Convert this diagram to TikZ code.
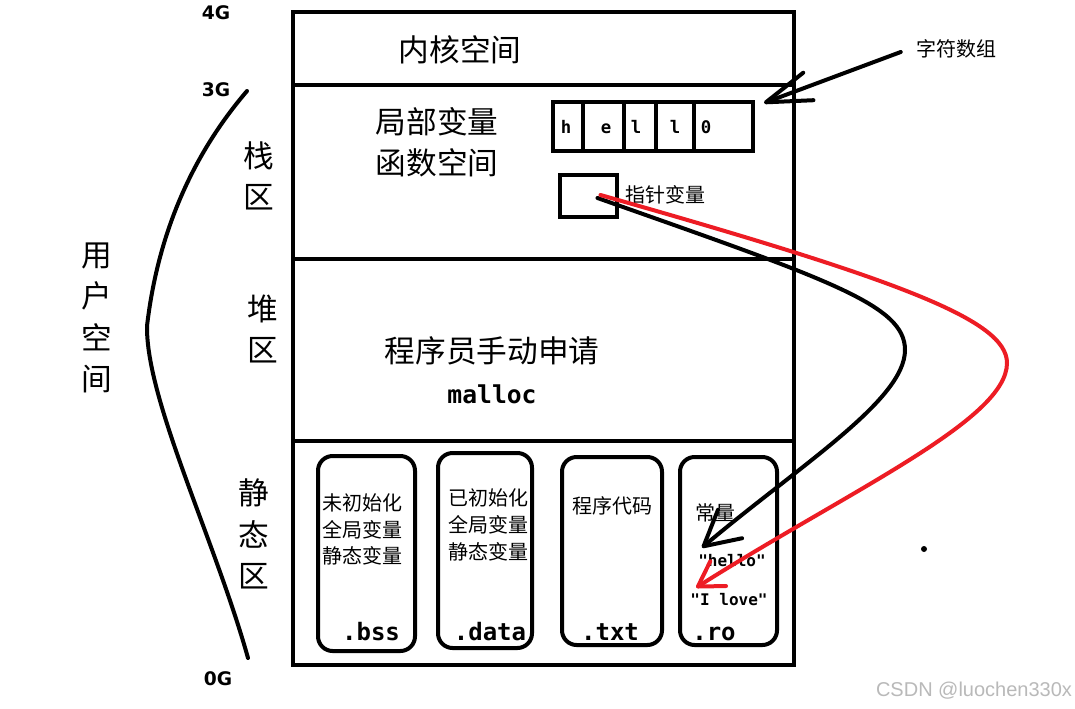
\documentclass[tikz,border=0pt]{standalone}
\usepackage{fontspec}
\setmainfont{Noto Sans CJK SC}
\setmonofont{DejaVu Sans Mono}
\newfontfamily\gfont{DejaVu Sans}
\newfontfamily\wmfont{Liberation Sans}
\usetikzlibrary{arrows.meta}
\definecolor{paintred}{RGB}{237,28,36}

\begin{document}
\begin{tikzpicture}[
    x=0.75pt, y=-0.75pt,
    region/.style={draw, line width=3pt},
    seg/.style={rectangle, draw, line width=3pt, rounded corners=11pt, inner sep=0pt},
    cellbox/.style={rectangle, draw, line width=3pt, inner sep=0pt},
    big/.style={font=\fontsize{23}{31}\selectfont, align=center, inner sep=0pt},
    small/.style={font=\fontsize{15}{20}\selectfont, align=center, inner sep=0pt},
    code/.style={font=\ttfamily\bfseries\fontsize{18}{20}\selectfont, inner sep=0pt, anchor=base},
    cellchar/.style={font=\ttfamily\bfseries\fontsize{13}{14}\selectfont, inner sep=0pt, anchor=base},
    strlit/.style={font=\ttfamily\bfseries\fontsize{12}{13}\selectfont, inner sep=0pt, anchor=base},
    gig/.style={font=\gfont\bfseries\fontsize{14}{15}\selectfont, inner sep=0pt},
    arrow/.style={line width=3pt, line cap=round}
]
    \fill[white] (0,0) rectangle (1075,708);
    \useasboundingbox (0,0) rectangle (1075,708);

    \draw[region] (293,12) rectangle (794,665);
    \foreach \y in {85,259,441}
        \draw[region] (293,\y) -- (794,\y);

    \node[big] (kernel) at (460,50) {内核空间};
    \node[big] (local) at (437,142.5) {局部变量\\函数空间};
    \node[big] (heapnote) at (492,351) {程序员手动申请};
    \node[code, font=\ttfamily\bfseries\fontsize{18.5}{20}\selectfont] (malloc) at (492,403) {malloc};

    \node[cellbox, minimum width=150pt, minimum height=36.75pt] (arr) at (653,126.5) {};
    \foreach \x in {583,624,656,694}
        \draw[line width=3pt] (\x,102) -- (\x,151);
    \foreach \x/\c [count=\i] in {566/h,606/e,636/l,675/l,706/0}
        \node[cellchar] (c\i) at (\x,133) {\c};
    \node[cellbox, minimum width=42.75pt, minimum height=31.5pt] (ptr) at (588.5,196) {};
    \node[small] (ptrlabel) at (665,195) {指针变量};
    \node[small] (chars) at (956,49) {字符数组};

    \node[big] (stack) at (259,176) {栈\\区};
    \node[big] (heap) at (263,329) {堆\\区};
    \node[big] (static) at (254,534) {静\\态\\区};
    \node[big] (user) at (97,318) {用\\户\\空\\间};
    \node[gig] (g4) at (216,13) {4G};
    \node[gig] (g3) at (216,90) {3G};
    \node[gig] (g0) at (218,679) {0G};
    \draw[line width=3pt, line cap=round] (247,91) .. controls (205,140) and (160,215) .. (147,326)
        .. controls (146,400) and (215,540) .. (248,658);

    \node[seg, minimum width=72.75pt, minimum height=146.25pt] (bss) at (366.5,553.5) {};
    \node[seg, minimum width=70.5pt, minimum height=146.25pt] (data) at (485,550.5) {};
    \node[seg, minimum width=75pt, minimum height=141pt] (txt) at (612,551) {};
    \node[seg, minimum width=72.75pt, minimum height=141pt] (ro) at (728.5,551) {};

    \node[small] (bsstext) at (362,529.5) {未初始化\\全局变量\\静态变量};
    \node[small] (datatext) at (488,525) {已初始化\\全局变量\\静态变量};
    \node[small] (txttext) at (612,506) {程序代码};
    \node[small] (rotext) at (715,513) {常量};
    \node[strlit] (hello) at (732,566) {"hello"};
    \node[strlit] (ilove) at (729,605) {"I love"};
    \node[code] (bsslabel) at (371,640) {.bss};
    \node[code] (datalabel) at (490,640) {.data};
    \node[code] (txtlabel) at (610,640) {.txt};
    \node[code] (rolabel) at (714,640) {.ro};

    \draw[arrow, -{Straight Barb[length=34pt, width=22pt, round]}] ([shift={(-15,3)}]chars.west) -- ([shift={(9,3)}]arr.north east);
    \draw[arrow, -{Straight Barb[length=26pt, width=28pt, round]}] ([shift={(9,2)}]ptr.center)
        .. controls (830,280) and (905,305) .. (905,350)
        .. controls (905,400) and (800,465) .. ([shift={(4,-6)}]hello.north west);
    \draw[arrow, paintred, line width=3pt, -{Straight Barb[length=18pt, width=22pt, round]}] ([shift={(12,-1)}]ptr.center)
        .. controls (900,280) and (1007,320) .. (1007,363)
        .. controls (1007,420) and (850,490) .. ([shift={(6,-5)}]ilove.north west);

    \node[circle, fill, inner sep=0pt, minimum size=4.5pt] (dot) at (924,549) {};
    \node[font=\wmfont\fontsize{15}{16}\selectfont, text=gray!55, inner sep=0pt] (mark) at (974,691) {CSDN @luochen330x};
\end{tikzpicture}
\end{document}
